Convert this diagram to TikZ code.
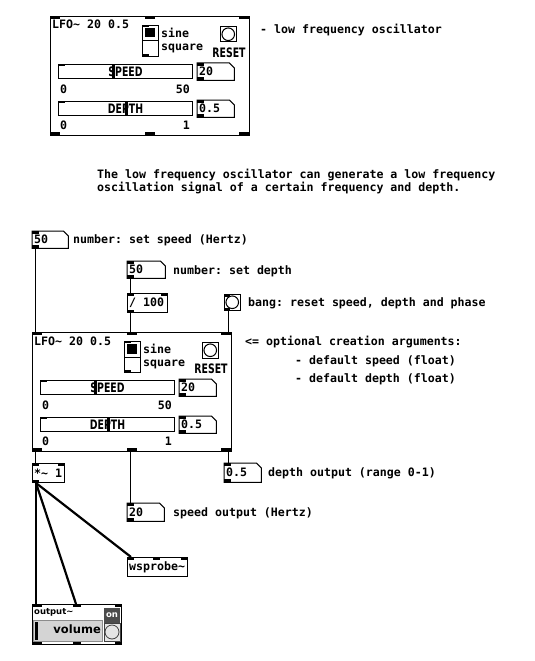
\documentclass[tikz,border=0pt]{standalone}
\usepackage{fontspec}
\setmonofont{DejaVu Sans Mono}
\newfontfamily\labfont[FakeStretch=0.72]{DejaVu Sans}
\newfontfamily\sansfont{DejaVu Sans}
\usetikzlibrary{calc}
\newcommand\pdtext{\fontsize{11.6}{13.5}\ttfamily\bfseries}
\tikzset{
  pd/.style={font=\pdtext, inner sep=0pt},
  txt/.style={pd, anchor=base west},
  ln/.style={line width=1pt},
  sig/.style={line width=2.2pt},
  lab/.style={font={\fontsize{13}{14}\labfont\bfseries}, inner sep=0pt},
  boxnode/.style={draw, ln, inner sep=0pt, anchor=north west},
}
% number box: name, x, y, w, h, text
\newcommand\pdnum[6]{%
  \node[inner sep=0pt, minimum width=#4pt, minimum height=#5pt, anchor=north west] (#1) at (#2,#3) {};
  \draw[ln] (#1.north west) -- ([xshift=-5pt]#1.north east) -- ([yshift=-5pt]#1.north east) -- (#1.south east) -- (#1.south west) -- cycle;
  \fill (#1.north west) rectangle ([xshift=7pt,yshift=-3pt]#1.north west);
  \fill (#1.south west) rectangle ([xshift=7pt,yshift=3pt]#1.south west);
  \node[pd, anchor=west] (#1-t) at ([xshift=2pt]#1.west) {#6};
}
% object box: name, x, y, w, h, text
\newcommand\pdobj[6]{%
  \node[boxnode, minimum width=#4pt, minimum height=#5pt] (#1) at (#2,#3) {};
  \node[pd, anchor=west] (#1-t) at ([xshift=2pt]#1.west) {#6};
}
% inlet / outlet marks: anchor, x offset, width
\newcommand\pdin[3]{\fill ($(#1)+(#2,0)$) rectangle ++(#3,3);}
\newcommand\pdout[3]{\fill ($(#1)+(#2,0)$) rectangle ++(#3,-3);}
\tikzset{
  lfo/.pic={
    \node[boxnode, minimum width=199pt, minimum height=119pt] (-box) at (0,0) {};
    \fill (0,0) rectangle (10,3); \fill (95,0) rectangle (105,3); \fill (189,0) rectangle (199,3);
    \fill (0,119) rectangle (10,116); \fill (95,119) rectangle (105,116); \fill (189,119) rectangle (199,116);
    \node[pd, anchor=base west] (-title) at (2,13) {LFO\textasciitilde{} 20 0.5};
    % radio
    \node[boxnode, minimum width=16pt, minimum height=31pt] (-radio) at (92,9) {};
    \draw[ln] (-radio.west) -- (-radio.east);
    \fill (95,12) rectangle (105,21.5);
    \fill (92,9) rectangle (99,11); \fill (92,40) rectangle (99,38);
    \node[pd, anchor=west] (-sine) at (111,17) {sine};
    \node[pd, anchor=west] (-square) at (111,32.5) {square};
    % bang
    \node[boxnode, minimum size=15.5pt] (-bang) at (170,10) {};
    \draw[ln] (-bang.center) circle (6.3pt);
    \node[lab] (-reset) at (179,37) {RESET};
    % speed slider
    \node[boxnode, minimum width=134pt, minimum height=14pt] (-speed) at (8,48) {};
    \fill (8,48) rectangle (15,50);
    \fill (62,48) rectangle (65,62);
    \node[lab] (-speedl) at (-speed.center) {SPEED};
    \node[pd, anchor=west] (-s0) at (10,73) {0};
    \node[pd, anchor=east] (-s50) at (140,73) {50};
    \pdnum{-snum}{147}{47}{37}{17}{20}
    % depth slider
    \node[boxnode, minimum width=134pt, minimum height=14pt] (-depth) at (8,85) {};
    \fill (8,85) rectangle (15,87);
    \fill (75,85) rectangle (78,99);
    \node[lab] (-depthl) at (-depth.center) {DEPTH};
    \node[pd, anchor=west] (-d0) at (10,109) {0};
    \node[pd, anchor=east] (-d1) at (140,109) {1};
    \pdnum{-dnum}{147}{84}{37}{17}{0.5}
  }
}
\begin{document}
\begin{tikzpicture}[x=1pt,y=-1pt]
\useasboundingbox (0,0) rectangle (535,661);
\fill[white] (0,0) rectangle (535,661);
% top part
\pic (lfoA) at (50,16) {lfo};
\node[txt] (lfodesc) at (260,34) {- low frequency oscillator};
\node[txt] (desc1) at (97,178) {The low frequency oscillator can generate a low frequency};
\node[txt] (desc2) at (97,191.5) {oscillation signal of a certain frequency and depth.};
% inputs
\pdnum{spd}{32}{231}{36}{17}{50}
\node[txt] (spdl) at (73,243) {number: set speed (Hertz)};
\pdnum{dep}{127}{261}{38}{17}{50}
\node[txt] (depl) at (173,274) {number: set depth};
\pdobj{div}{127}{293}{40}{19}{/ 100}
\pdin{div.north west}{0}{7} \pdin{div.north east}{-7}{7} \pdout{div.south west}{0}{7}
\node[boxnode, minimum size=15.5pt] (rb) at (224,294) {};
\draw[ln] (rb.center) circle (6.3pt);
\pdin{rb.north west}{0}{6} \pdout{rb.south west}{0}{6}
\node[txt] (rbl) at (248,306) {bang: reset speed, depth and phase};
% main object
\pic (lfoB) at (32,332) {lfo};
\node[txt] (argl) at (245,345.5) {<= optional creation arguments:};
\node[txt] (arg1) at (295,364.5) {- default speed (float)};
\node[txt] (arg2) at (295,382.5) {- default depth (float)};
% outputs
\pdobj{mul}{32}{463}{32}{19}{*\textasciitilde{} 1}
\pdin{mul.north west}{0}{7} \pdin{mul.north east}{-7}{7} \pdout{mul.south west}{0}{7}
\pdnum{dout}{224}{463}{37}{19}{0.5}
\node[txt] (doutl) at (268,476) {depth output (range 0-1)};
\pdnum{sout}{127}{503}{37}{18}{20}
\node[txt] (soutl) at (173,516) {speed output (Hertz)};
\pdobj{wsp}{127}{557}{60}{19}{wsprobe\textasciitilde}
\pdin{wsp.north west}{0}{7} \pdin{wsp.north west}{26}{7} \pdin{wsp.north east}{-7}{7}
% output~
\node[boxnode, minimum width=89pt, minimum height=40pt] (out) at (32,604) {};
\fill[black!17] (33.5,620) rectangle (102.5,641);
\draw[black!45, line width=0.8pt] (33.5,620) rectangle (102.5,641);
\fill (35,622) rectangle (38,639.5);
\node[font={\fontsize{11.5}{13}\sansfont\bfseries}, anchor=east, inner sep=0pt] (vol) at (101,629) {volume};
\node[font={\fontsize{8.5}{10}\sansfont\bfseries}, anchor=west, inner sep=0pt] (outl) at (34,612.5) {output\textasciitilde};
\fill[black!70] (104,608) rectangle (120,623);
\node[font={\fontsize{8.5}{10}\sansfont\bfseries}, text=white, inner sep=0pt] (on) at (112,615.5) {on};
\fill[black!10] (104,623) rectangle (120,641);
\draw[black!75, line width=0.8pt] (104,623) rectangle (120,641);
\draw[black!75, line width=0.8pt] (112,632) circle (7pt);
\pdin{out.north west}{0}{10} \pdin{out.north west}{41}{8} \pdin{out.north east}{-7}{7}
\pdout{out.south west}{0}{10} \pdout{out.south west}{41}{8} \pdout{out.south east}{-7}{7}
% control wires
\draw[ln] ($(spd.south west)+(3,0)$) -- ($(lfoB-box.north west)+(3,0)$);
\draw[ln] ($(dep.south west)+(3,0)$) -- ($(div.north west)+(3,0)$);
\draw[ln] ($(div.south west)+(3,0)$) -- ($(lfoB-box.north west)+(98,0)$);
\draw[ln] ($(rb.south west)+(4,0)$) -- ($(lfoB-box.north west)+(196,0)$);
\draw[ln] ($(lfoB-box.south west)+(3,0)$) -- ($(mul.north west)+(3,0)$);
\draw[ln] ($(lfoB-box.south west)+(98,0)$) -- ($(sout.north west)+(3,0)$);
\draw[ln] ($(lfoB-box.south west)+(196,0)$) -- ($(dout.north west)+(4,0)$);
% signal wires
\draw[sig] ($(mul.south west)+(4,0)$) -- ($(out.north west)+(4,0)$);
\draw[sig] ($(mul.south west)+(4,0)$) -- ($(out.north west)+(44,0)$);
\draw[sig] ($(mul.south west)+(4,0)$) -- ($(wsp.north west)+(4,0)$);
\end{tikzpicture}
\end{document}
